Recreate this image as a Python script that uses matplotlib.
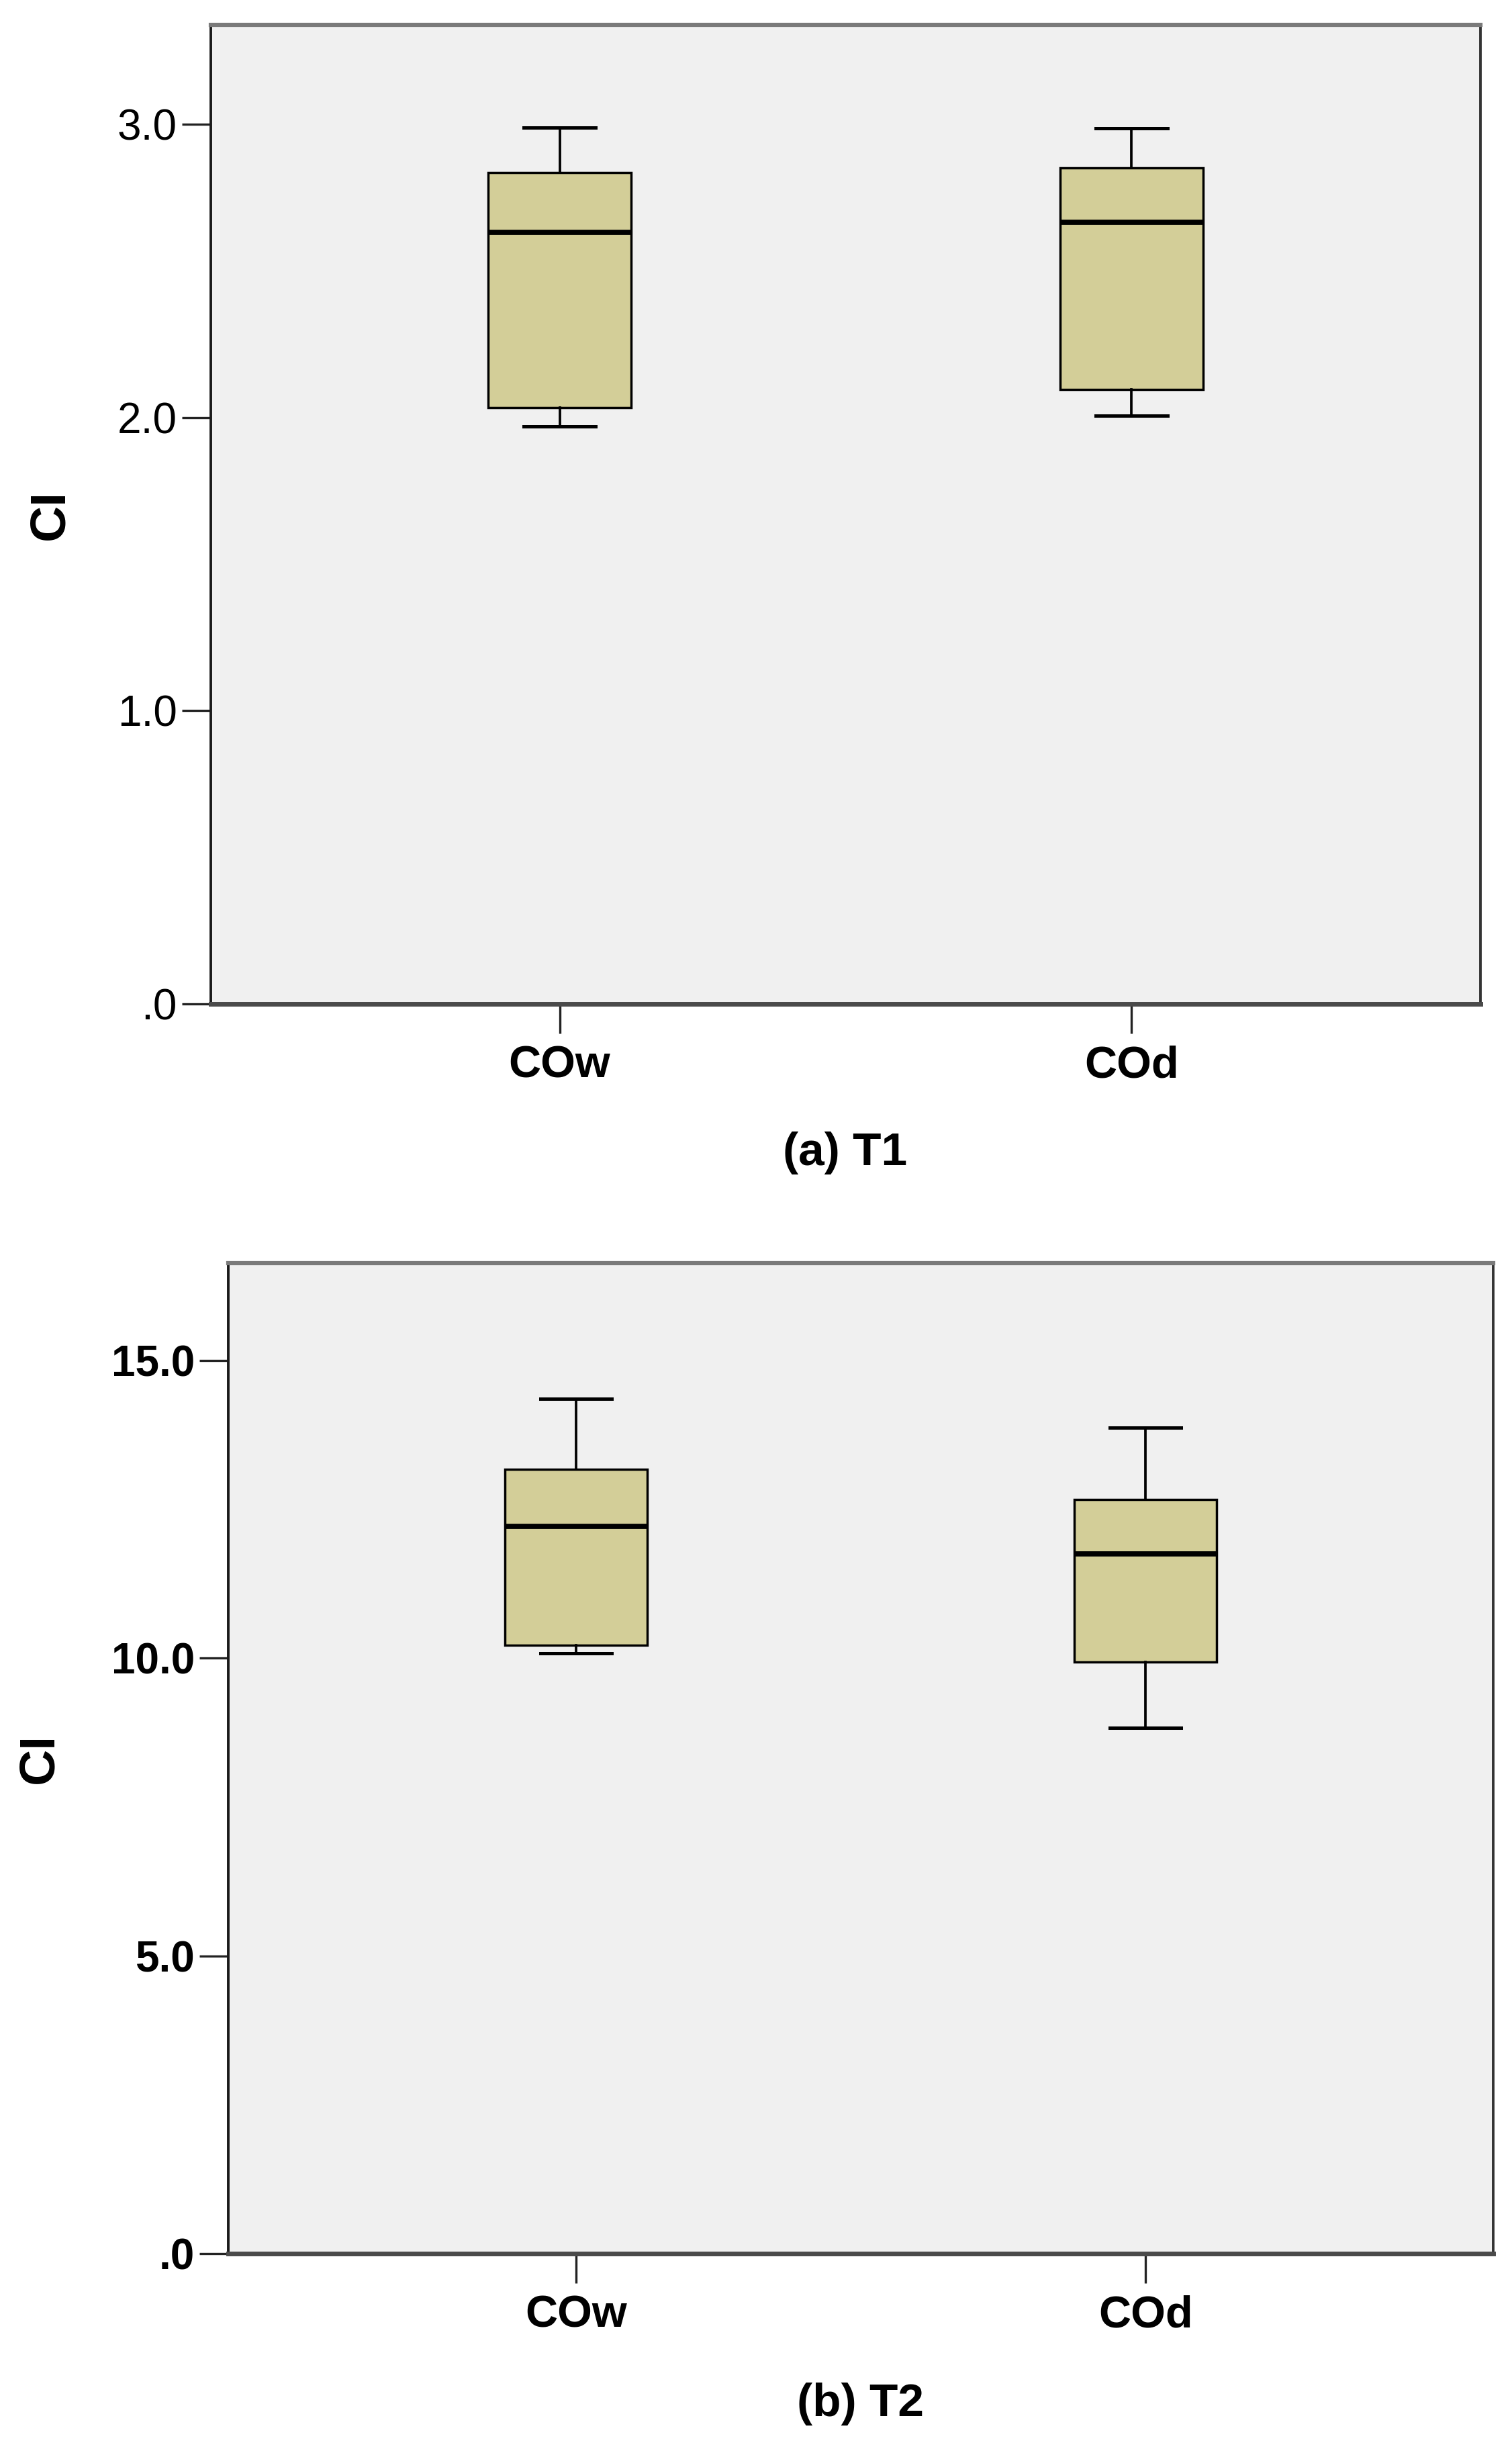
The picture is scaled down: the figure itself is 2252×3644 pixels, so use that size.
import matplotlib
matplotlib.use("Agg")
import matplotlib.pyplot as plt

plt.rcParams['font.family'] = ['Liberation Sans', 'DejaVu Sans']

categories = ["COw", "COd"]

# Panel (a) T1 box statistics
t1_whislo = [1.969, 2.006]
t1_q1 = [2.035, 2.097]
t1_med = [2.631, 2.667]
t1_q3 = [2.836, 2.852]
t1_whishi = [2.990, 2.987]
t1_yticks = [0.0, 1.0, 2.0, 3.0]
t1_yticklabels = [".0", "1.0", "2.0", "3.0"]

# Panel (b) T2 box statistics
t2_whislo = [10.08, 8.83]
t2_q1 = [10.21, 9.93]
t2_med = [12.21, 11.75]
t2_q3 = [13.17, 12.66]
t2_whishi = [14.35, 13.87]
t2_yticks = [0.0, 5.0, 10.0, 15.0]
t2_yticklabels = [".0", "5.0", "10.0", "15.0"]

W, H = 2252, 3644
fig = plt.figure(figsize=(W / 100, H / 100), dpi=100)

BOX_FILL = "#D3CE98"
AX_BG = "#F0F0F0"


def px(x0, y0, x1, y1):
    return [x0 / W, 1 - y1 / H, (x1 - x0) / W, (y1 - y0) / H]


def draw_panel(rect, whislo, q1, med, q3, whishi, yticks, yticklabels, ymax,
               tick_bold):
    ax = fig.add_axes(rect)
    ax.set_facecolor(AX_BG)
    stats = []
    for i, name in enumerate(categories):
        stats.append(dict(label=name, whislo=whislo[i], q1=q1[i], med=med[i],
                          q3=q3[i], whishi=whishi[i], fliers=[]))
    ax.bxp(stats, positions=[1, 2], widths=0.25, patch_artist=True,
           showfliers=False, capwidths=0.125,
           boxprops=dict(facecolor=BOX_FILL, edgecolor="black", linewidth=2.5),
           medianprops=dict(color="black", linewidth=5.6, solid_capstyle="butt"),
           whiskerprops=dict(color="black", linewidth=2.7),
           capprops=dict(color="black", linewidth=3.6))
    ax.set_xlim(0.39, 2.61)
    ax.set_ylim(0, ymax)
    ax.set_yticks(yticks)
    ax.set_yticklabels(yticklabels, fontsize=46,
                       fontweight="bold" if tick_bold else "normal")
    ax.set_xticks([1, 2])
    ax.set_xticklabels(categories, fontsize=48, fontweight="bold")
    ax.tick_params(axis="y", length=31, width=2.4, pad=5, color="#222222")
    ax.tick_params(axis="x", length=32, width=2.4, pad=12, color="#222222")
    ax.spines["left"].set_color("#1a1a1a")
    ax.spines["left"].set_linewidth(2.8)
    ax.spines["right"].set_color("#333333")
    ax.spines["right"].set_linewidth(2.8)
    ax.spines["top"].set_color("#7a7a7a")
    ax.spines["top"].set_linewidth(4.5)
    ax.spines["bottom"].set_color("#4a4a4a")
    ax.spines["bottom"].set_linewidth(5)
    ax.set_ylabel("CI", fontsize=54, fontweight="bold")
    return ax


ax1 = draw_panel(px(314, 37, 2205, 1495), t1_whislo, t1_q1, t1_med, t1_q3,
                 t1_whishi, t1_yticks, t1_yticklabels, 3.34, False)
ax1.yaxis.set_label_coords(-0.108, 0.5)
ax2 = draw_panel(px(340, 1881, 2224, 3356), t2_whislo, t2_q1, t2_med, t2_q3,
                 t2_whishi, t2_yticks, t2_yticklabels, 16.63, True)
ax2.yaxis.set_label_coords(-0.131, 0.5)

fig.text(1259 / W, 1 - 1717 / H, "(a) T1", fontsize=50, fontweight="bold",
         ha="center", va="center")
fig.text(1282 / W, 1 - 3580 / H, "(b) T2", fontsize=50, fontweight="bold",
         ha="center", va="center")

fig.savefig("out.png", dpi=100, facecolor="white")
